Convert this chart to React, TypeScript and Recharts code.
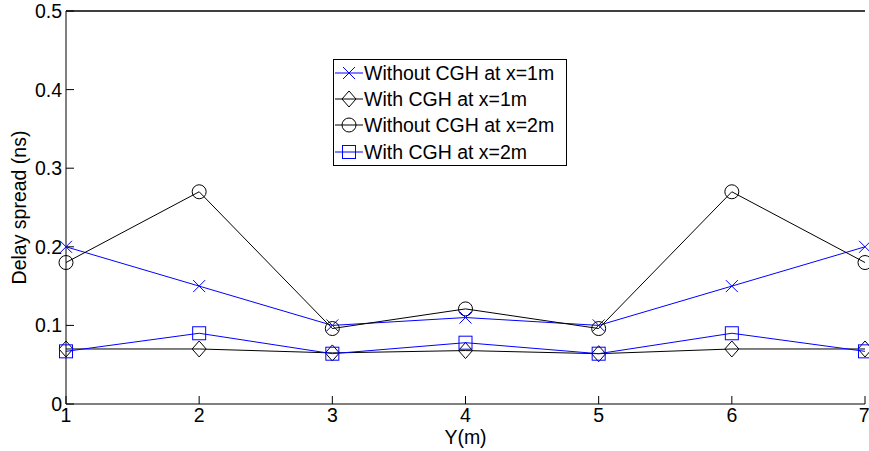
import React from 'react';
import { LineChart, Line, XAxis, YAxis, ReferenceLine } from 'recharts';

const yPositions = [1, 2, 3, 4, 5, 6, 7];
const withoutCgh1m = [0.2, 0.15, 0.1, 0.11, 0.1, 0.15, 0.2];
const withCgh1m = [0.07, 0.07, 0.065, 0.068, 0.064, 0.07, 0.07];
const withoutCgh2m = [0.18, 0.27, 0.096, 0.121, 0.096, 0.27, 0.18];
const withCgh2m = [0.067, 0.09, 0.064, 0.078, 0.064, 0.09, 0.067];
const yTicks = [0, 0.1, 0.2, 0.3, 0.4, 0.5];

const data = yPositions.map((y, i) => ({
  y,
  a: withoutCgh1m[i],
  b: withCgh1m[i],
  c: withoutCgh2m[i],
  d: withCgh2m[i],
}));

const FONT = 'Liberation Sans, Arial, sans-serif';
const FS = 19.5;
const BLUE = '#0000ff';

function Marker({ kind, cx, cy, color }: { kind: string; cx: number; cy: number; color: string }) {
  if (cx == null || cy == null) return null;
  if (kind === 'x') {
    const s = 6;
    return (
      <g stroke={color} strokeWidth={1}>
        <line x1={cx - s} y1={cy - s} x2={cx + s} y2={cy + s} />
        <line x1={cx - s} y1={cy + s} x2={cx + s} y2={cy - s} />
      </g>
    );
  }
  if (kind === 'diamond') {
    return (
      <polygon
        points={`${cx},${cy - 8} ${cx + 7},${cy} ${cx},${cy + 8} ${cx - 7},${cy}`}
        fill="none"
        stroke={color}
        strokeWidth={1}
      />
    );
  }
  if (kind === 'circle') {
    return <circle cx={cx} cy={cy} r={7} fill="none" stroke={color} strokeWidth={1} />;
  }
  return <rect x={cx - 6.5} y={cy - 6.5} width={13} height={13} fill="none" stroke={color} strokeWidth={1} />;
}

const series = [
  { key: 'a', name: 'Without CGH at x=1m', color: BLUE, kind: 'x' },
  { key: 'b', name: 'With CGH at x=1m', color: '#000', kind: 'diamond' },
  { key: 'c', name: 'Without CGH at x=2m', color: '#000', kind: 'circle' },
  { key: 'd', name: 'With CGH at x=2m', color: BLUE, kind: 'square' },
];

function LegendBox() {
  return (
    <div
      style={{
        position: 'absolute',
        left: 333,
        top: 59,
        border: '1px solid #000',
        background: '#fff',
        width: 232,
        fontFamily: FONT,
        fontSize: FS,
        lineHeight: '26.2px',
        color: '#000',
      }}
    >
      {series.map((s) => (
        <div key={s.key} style={{ display: 'flex', alignItems: 'center', whiteSpace: 'nowrap', height: 26.2 }}>
          <svg width={30} height={24} style={{ flex: 'none' }}>
            <line x1={1} y1={12} x2={29} y2={12} stroke={s.color} strokeWidth={1} />
            <Marker kind={s.kind} cx={15} cy={12} color={s.color} />
          </svg>
          <span>{s.name}</span>
        </div>
      ))}
    </div>
  );
}

export default function App() {
  const tickStyle = { fontFamily: FONT, fontSize: FS, fill: '#000' };
  return (
    <div style={{ position: 'absolute', left: 0, top: 0, width: 869, height: 451, background: '#fff' }}>
      <LineChart width={869} height={451} data={data} margin={{ top: 10, right: 4, left: 0, bottom: 0 }}>
        <XAxis
          dataKey="y"
          type="number"
          domain={[1, 7]}
          ticks={yPositions}
          axisLine={{ stroke: '#000', strokeWidth: 1 }}
          tickLine={{ stroke: '#000' }}
          tickSize={-8}
          tickMargin={12}
          tick={tickStyle}
          height={47}
          label={{
            value: 'Y(m)',
            content: ({ viewBox }: any) => (
              <text
                x={viewBox.x + viewBox.width / 2}
                y={viewBox.y + 33}
                textAnchor="middle"
                dominantBaseline="central"
                style={tickStyle}
              >
                Y(m)
              </text>
            ),
          }}
        />
        <XAxis
          xAxisId="top"
          dataKey="y"
          type="number"
          domain={[1, 7]}
          ticks={yPositions}
          orientation="top"
          axisLine={{ stroke: '#000' }}
          tickLine={{ stroke: '#000' }}
          tickSize={-8}
          tick={false}
          height={1}
        />
        <YAxis
          type="number"
          domain={[0, 0.5]}
          ticks={yTicks}
          width={66}
          axisLine={{ stroke: '#000' }}
          tickLine={{ stroke: '#000' }}
          tickSize={-8}
          tickMargin={12}
          tick={tickStyle}
          label={{
            value: 'Delay spread (ns)',
            content: ({ viewBox }: any) => {
              const x = viewBox.x + 19;
              const y = viewBox.y + viewBox.height / 2;
              return (
                <text
                  x={x}
                  y={y}
                  transform={`rotate(-90, ${x}, ${y})`}
                  textAnchor="middle"
                  dominantBaseline="central"
                  style={tickStyle}
                >
                  Delay spread (ns)
                </text>
              );
            },
          }}
        />
        <YAxis
          yAxisId="right"
          orientation="right"
          type="number"
          domain={[0, 0.5]}
          ticks={yTicks}
          width={0}
          axisLine={{ stroke: '#000' }}
          tickLine={{ stroke: '#000' }}
          tickSize={-8}
          tick={false}
        />
        <ReferenceLine y={0.5} stroke="#000" strokeWidth={1} />
        {series.map((s) => (
          <Line
            key={s.key}
            dataKey={s.key}
            name={s.name}
            stroke={s.color}
            strokeWidth={1}
            isAnimationActive={false}
            dot={(p: any) => <Marker key={`${s.key}-${p.index}`} kind={s.kind} cx={p.cx} cy={p.cy} color={s.color} />}
            activeDot={false}
          />
        ))}
      </LineChart>
      <LegendBox />
    </div>
  );
}
